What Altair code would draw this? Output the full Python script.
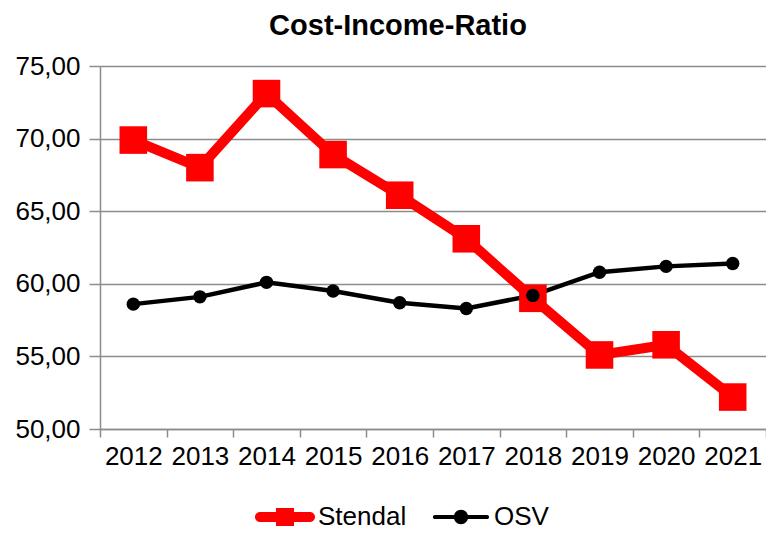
import altair as alt
import pandas as pd

years = ["2012", "2013", "2014", "2015", "2016", "2017", "2018", "2019", "2020", "2021"]
stendal = [69.9, 68.0, 73.1, 68.9, 66.1, 63.1, 59.0, 55.1, 55.8, 52.2]
osv = [58.6, 59.1, 60.1, 59.5, 58.7, 58.3, 59.2, 60.8, 61.2, 61.4]
series_names = ["Stendal", "OSV"]
series_colors = ["#FF0000", "#000000"]
y_ticks = [50, 55, 60, 65, 70, 75]

FONT = "Liberation Sans"
GRID = "#8c8c8c"

df_st = pd.DataFrame({"year": years, "value": stendal, "series": "Stendal"})
df_osv = pd.DataFrame({"year": years, "value": osv, "series": "OSV"})
df_leg = pd.DataFrame({"year": [years[0]] * 2, "value": [None, None], "series": series_names})

# legend symbols: line with marker (unit box -1..1)
path_st = ("M-0.833,-0.167 H0.833 A0.167,0.167 0 0 1 0.833,0.167 H-0.833 "
           "A0.167,0.167 0 0 1 -0.833,-0.167 Z M-0.3,-0.3 H0.3 V0.3 H-0.3 Z")
path_osv = ("M-0.867,-0.07 H0.867 A0.07,0.07 0 0 1 0.867,0.07 H-0.867 "
            "A0.07,0.07 0 0 1 -0.867,-0.07 Z M-0.24,0 A0.24,0.24 0 1 1 0.24,0 "
            "A0.24,0.24 0 1 1 -0.24,0 Z")

x_enc = alt.X(
    "year:N",
    scale=alt.Scale(domain=years, paddingInner=0, paddingOuter=0),
    axis=alt.Axis(
        title=None, tickBand="extent", labelAngle=0, grid=False,
        labelFontSize=26, labelFont=FONT, labelColor="#000000", labelPadding=6,
        tickSize=8, tickColor=GRID, tickWidth=1.5, domainColor=GRID, domainWidth=1.5,
    ),
)
y_enc = alt.Y(
    "value:Q",
    scale=alt.Scale(domain=[50, 75], nice=False, zero=False),
    axis=alt.Axis(
        title=None, values=y_ticks,
        labelExpr="replace(format(datum.value, '.2f'), '.', ',')",
        labelFontSize=26, labelFont=FONT, labelColor="#000000", labelPadding=9,
        tickSize=11, tickColor=GRID, tickWidth=1.5, domainColor=GRID, domainWidth=1.5,
        grid=True, gridColor=GRID, gridWidth=1.5,
    ),
)

osv_line = alt.Chart(df_osv).mark_line(color="#000000", strokeWidth=4.5).encode(x=x_enc, y=y_enc)
osv_pts = alt.Chart(df_osv).mark_point(shape="circle", filled=True, color="#000000",
                                      size=180, opacity=1).encode(x=x_enc, y=y_enc)
st_line = alt.Chart(df_st).mark_line(color="#FF0000", strokeWidth=10).encode(x=x_enc, y=y_enc)
st_pts = alt.Chart(df_st).mark_point(shape="square", filled=True, color="#FF0000",
                                    size=760, opacity=1).encode(x=x_enc, y=y_enc)

leg = alt.Legend(title=None, orient="none", legendX=155, legendY=421,
                 direction="horizontal", labelFontSize=26, labelFont=FONT,
                 labelColor="#000000", labelOffset=3, columnPadding=24,
                 symbolSize=3600, symbolStrokeWidth=0)

legend_layer = alt.Chart(df_leg).mark_point(filled=True, size=3600, strokeWidth=0, opacity=1).encode(
    x=x_enc,
    y=y_enc,
    color=alt.Color("series:N", scale=alt.Scale(domain=series_names, range=series_colors), legend=leg),
    shape=alt.Shape("series:N", scale=alt.Scale(domain=series_names, range=[path_st, path_osv]), legend=leg),
)

chart = alt.layer(osv_line, st_line, st_pts, osv_pts, legend_layer).properties(
    width=666,
    height=363,
    title=alt.TitleParams("Cost-Income-Ratio", fontSize=29, fontWeight="bold", font=FONT,
                          color="#000000", anchor="middle", frame="group", dx=-35, offset=12),
    autosize=alt.AutoSizeParams(type="none"),
    padding={"left": 92, "top": 58, "right": 0, "bottom": 102},
).configure_view(stroke=None)

chart.save("out.html", embed_options={"renderer": "svg", "actions": False})
